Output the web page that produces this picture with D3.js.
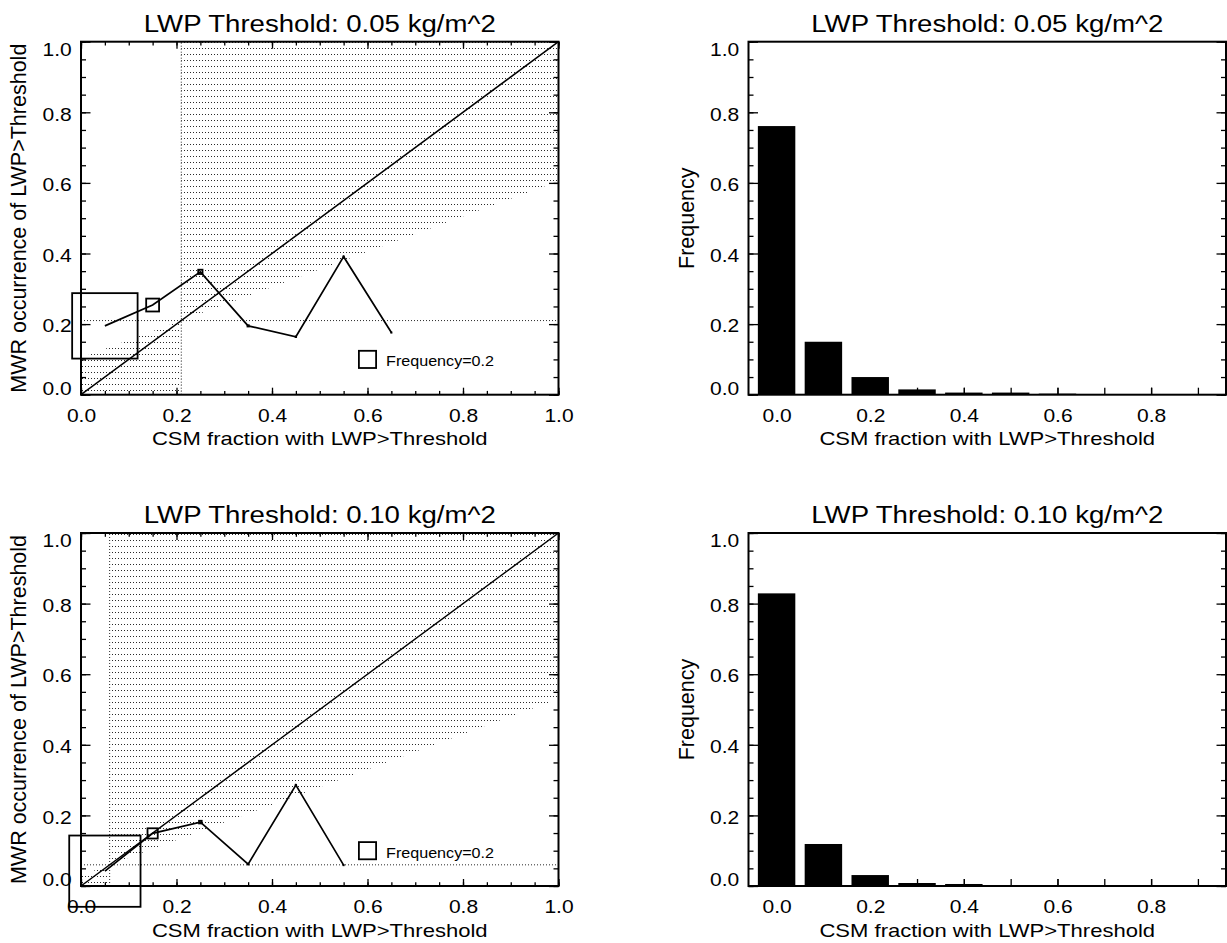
<!DOCTYPE html>
<html>
<head>
<meta charset="utf-8">
<script src="https://cdn.jsdelivr.net/npm/d3@7"></script>
<style>
  html, body { margin: 0; padding: 0; background: #fff; }
  svg { display: block; }
  text { font-family: "Liberation Sans", Arial, Helvetica, sans-serif; fill: #000; }
</style>
</head>
<body>
<svg id="fig" width="1227" height="943"></svg>
<script>
// CSM cloud-fraction bins: lower edges (histogram) and centres (reliability curve)
const binStarts  = [0.0, 0.1, 0.2, 0.3, 0.4, 0.5, 0.6, 0.7, 0.8, 0.9];
const binCenters = [0.05, 0.15, 0.25, 0.35, 0.45, 0.55, 0.65, 0.75, 0.85, 0.95];

// LWP threshold 0.05 kg/m^2
const freq005 = [0.761, 0.150, 0.050, 0.015, 0.006, 0.006, 0.003, 0, 0, 0];
const mwr005  = [0.195, 0.254, 0.348, 0.195, 0.164, 0.391, 0.176, null, null, null];
const clim005 = 0.21;

// LWP threshold 0.10 kg/m^2
const freq010 = [0.829, 0.119, 0.031, 0.0085, 0.0057, 0.002, 0, 0, 0, 0];
const mwr010  = [0.042, 0.149, 0.181, 0.062, 0.286, 0.059, null, null, null, null];
const clim010 = 0.06;

const titles     = ["LWP Threshold: 0.05 kg/m^2", "LWP Threshold: 0.10 kg/m^2"];
const xTitle     = "CSM fraction with LWP>Threshold";
const yTitleRel  = "MWR occurrence of LWP>Threshold";
const yTitleHist = "Frequency";
const legendFreq  = 0.2;
const legendLabel = "Frequency=0.2";
const relTicks   = [0, 0.2, 0.4, 0.6, 0.8, 1.0];
const histTicks  = [0, 0.2, 0.4, 0.6, 0.8];

// panel geometry
const W = 477.5, H = 353;
const colX = [81, 748.5];
const rowY = [41.7, 533];

const TICK_SX = 1.2, TITLE_SX = 1.15, XT_SX = 1.16;
const fmt = d3.format(".1f");

const svg = d3.select("#fig");
const defs = svg.append("defs");

function stretched(g, str, x, y, size, sx, anchor) {
  return g.append("text")
    .attr("transform", `translate(${x},${y}) scale(${sx},1)`)
    .attr("text-anchor", anchor)
    .style("font-size", size + "px")
    .text(str);
}

function cleanAxis(g) {
  g.attr("font-size", null).attr("font-family", null);
  g.select(".domain").remove();
  g.selectAll(".tick line").attr("stroke", "#000").attr("stroke-width", 1.3);
}

function xLabels(g) {
  g.selectAll(".tick text")
    .attr("y", null).attr("dy", null)
    .attr("transform", `translate(0,27) scale(${TICK_SX},1)`)
    .style("font-size", "17.5px");
}

function yLabels(g, yScale, top) {
  g.selectAll(".tick text").each(function (d) {
    const ty = yScale(d);
    const base = Math.max(top + 13.3, Math.min(top + H - 0.7, ty + 7.7));
    d3.select(this)
      .attr("x", null).attr("dy", null).attr("y", null)
      .attr("text-anchor", "end")
      .attr("transform", `translate(-9.3,${base - ty}) scale(${TICK_SX},1)`)
      .style("font-size", "17.5px");
  });
}

function yAxes(g, y, left, top) {
  const minor = d3.range(0, 1.0001, 0.05);
  g.append("g").attr("transform", `translate(${left},0)`)
    .call(d3.axisLeft(y).tickValues(minor).tickSize(-5).tickFormat(""))
    .call(cleanAxis);
  g.append("g").attr("transform", `translate(${left},0)`)
    .call(d3.axisLeft(y).tickValues(relTicks).tickSize(-9.5).tickFormat(fmt))
    .call(cleanAxis).call(ax => yLabels(ax, y, top));
  g.append("g").attr("transform", `translate(${left + W},0)`)
    .call(d3.axisRight(y).tickValues(minor).tickSize(-5).tickFormat(""))
    .call(cleanAxis);
  g.append("g").attr("transform", `translate(${left + W},0)`)
    .call(d3.axisRight(y).tickValues(relTicks).tickSize(-9.5).tickFormat(""))
    .call(cleanAxis);
}

function titlesFor(g, left, top, title, yTitle) {
  stretched(g, title, left + W / 2, top - 10, 24, TITLE_SX, "middle");
  stretched(g, xTitle, left + W / 2, top + H + 50.5, 19, XT_SX, "middle");
  g.append("text")
    .attr("transform", `translate(${left - 55},${top + H / 2}) rotate(-90)`)
    .attr("text-anchor", "middle")
    .style("font-size", "21.5px")
    .text(yTitle);
}

function frame(g, left, top) {
  g.append("rect").attr("x", left).attr("y", top).attr("width", W).attr("height", H)
    .attr("fill", "none").attr("stroke", "#000").attr("stroke-width", 2);
}

// reliability diagram with skill region, climatology lines and frequency-sized boxes
function reliability(left, top, freq, mwr, clim, title, pid) {
  const g = svg.append("g");
  const x = d3.scaleLinear([0, 1], [left, left + W]);
  const y = d3.scaleLinear([0, 1], [top + H, top]);
  const size = d3.scaleLinear([0, 1], [0, 86]);

  const pat = defs.append("pattern").attr("id", pid)
    .attr("patternUnits", "userSpaceOnUse")
    .attr("x", Math.round(left) + 1).attr("y", Math.round(top + H - 4.5))
    .attr("width", 3).attr("height", 6);
  pat.append("rect").attr("width", 1).attr("height", 1).attr("fill", "#2a2a2a");

  const noSkill = v => (v + clim) / 2;
  const regionLow  = [[0, 0], [clim, 0], [clim, clim], [0, noSkill(0)]];
  const regionHigh = [[clim, clim], [1, noSkill(1)], [1, 1], [clim, 1]];
  const poly = d3.line().x(d => x(d[0])).y(d => y(d[1]));
  [regionLow, regionHigh].forEach(r =>
    g.append("path").attr("d", poly(r) + "Z").attr("fill", `url(#${pid})`));

  // climatology lines
  g.append("line").attr("x1", x(clim)).attr("x2", x(clim)).attr("y1", y(0)).attr("y2", y(1))
    .attr("stroke", "#2a2a2a").attr("stroke-width", 1).attr("stroke-dasharray", "1,2");
  g.append("line").attr("x1", x(0)).attr("x2", x(1)).attr("y1", y(clim)).attr("y2", y(clim))
    .attr("stroke", "#2a2a2a").attr("stroke-width", 1).attr("stroke-dasharray", "1,2");

  // perfect reliability
  g.append("path").attr("d", poly([[0, 0], [1, 1]]))
    .attr("stroke", "#000").attr("stroke-width", 1.5).attr("fill", "none");

  const pts = binCenters.map((c, i) => ({ x: c, y: mwr[i], f: freq[i] }))
    .filter(p => p.y !== null && p.f > 0);
  g.append("path").datum(pts)
    .attr("d", d3.line().x(p => x(p.x)).y(p => y(p.y)))
    .attr("stroke", "#000").attr("stroke-width", 1.7).attr("fill", "none");
  g.selectAll("rect.box").data(pts).join("rect").attr("class", "box")
    .attr("x", p => x(p.x) - size(p.f) / 2).attr("y", p => y(p.y) - size(p.f) / 2)
    .attr("width", p => size(p.f)).attr("height", p => size(p.f))
    .attr("fill", "none").attr("stroke", "#000").attr("stroke-width", 1.8);

  // legend box
  const ls = size(legendFreq);
  g.append("rect").attr("x", x(0.6) - ls / 2).attr("y", y(0.1) - ls / 2)
    .attr("width", ls).attr("height", ls)
    .attr("fill", "none").attr("stroke", "#000").attr("stroke-width", 1.8);
  stretched(g, legendLabel, x(0.6) + ls / 2 + 10, y(0.1) + 7, 15.5, 1.04, "start");

  frame(g, left, top);

  const minor = d3.range(0, 1.0001, 0.05);
  g.append("g").attr("transform", `translate(0,${top + H})`)
    .call(d3.axisBottom(x).tickValues(minor).tickSize(-3.8).tickFormat("")).call(cleanAxis);
  g.append("g").attr("transform", `translate(0,${top + H})`)
    .call(d3.axisBottom(x).tickValues(relTicks).tickSize(-7).tickFormat(fmt))
    .call(cleanAxis).call(xLabels);
  g.append("g").attr("transform", `translate(0,${top})`)
    .call(d3.axisTop(x).tickValues(minor).tickSize(-3.8).tickFormat("")).call(cleanAxis);
  g.append("g").attr("transform", `translate(0,${top})`)
    .call(d3.axisTop(x).tickValues(relTicks).tickSize(-7).tickFormat("")).call(cleanAxis);
  yAxes(g, y, left, top);
  titlesFor(g, left, top, title, yTitleRel);
}

// frequency histogram of the CSM fraction bins
function histogram(left, top, freq, title) {
  const g = svg.append("g");
  const x = d3.scaleLinear([-0.06, 0.96], [left, left + W]);
  const y = d3.scaleLinear([0, 1], [top + H, top]);
  const bw = 0.08;

  g.selectAll("rect.bar").data(binStarts.map((b, i) => ({ b, f: freq[i] })).filter(d => d.f > 0))
    .join("rect").attr("class", "bar")
    .attr("x", d => x(d.b - bw / 2)).attr("width", x(bw) - x(0))
    .attr("y", d => y(d.f)).attr("height", d => y(0) - y(d.f))
    .attr("fill", "#000");

  frame(g, left, top);

  g.append("g").attr("transform", `translate(0,${top + H})`)
    .call(d3.axisBottom(x).tickValues(binStarts).tickSize(-7).tickFormat("")).call(cleanAxis);
  g.append("g").attr("transform", `translate(0,${top + H})`)
    .call(d3.axisBottom(x).tickValues(histTicks).tickSize(-7).tickFormat(fmt))
    .call(cleanAxis).call(xLabels);
  yAxes(g, y, left, top);
  titlesFor(g, left, top, title, yTitleHist);
}

reliability(colX[0], rowY[0], freq005, mwr005, clim005, titles[0], "fill005");
histogram(colX[1], rowY[0], freq005, titles[0]);
reliability(colX[0], rowY[1], freq010, mwr010, clim010, titles[1], "fill010");
histogram(colX[1], rowY[1], freq010, titles[1]);
</script>
</body>
</html>
